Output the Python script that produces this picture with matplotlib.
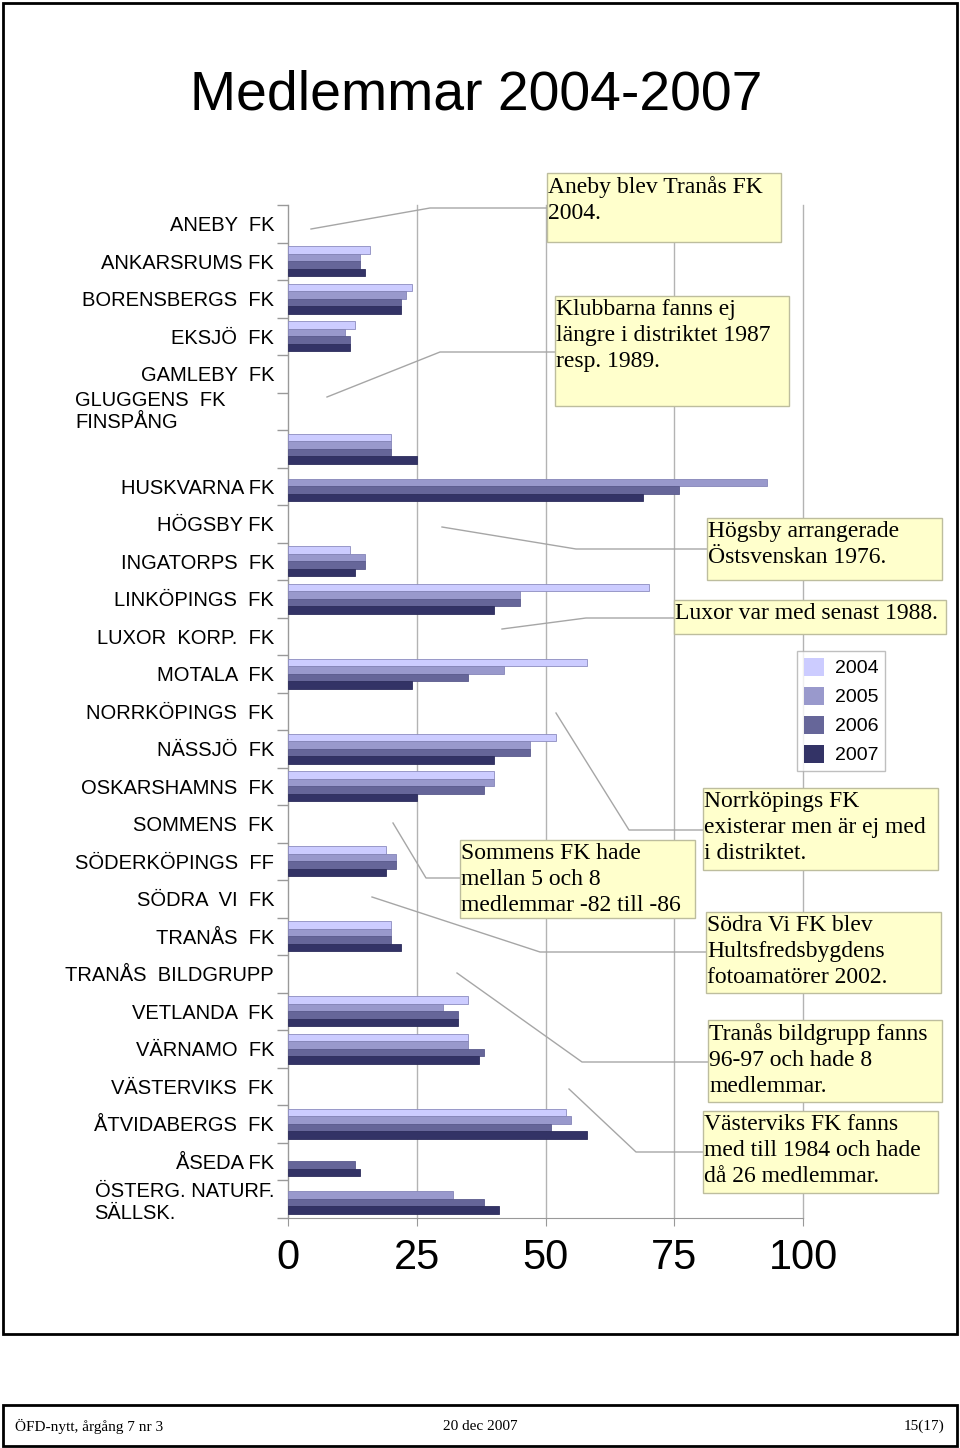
import matplotlib
matplotlib.use('Agg')
import matplotlib.pyplot as plt
import numpy as np
from matplotlib import font_manager
from matplotlib.patches import Rectangle
from matplotlib.lines import Line2D
from matplotlib.transforms import blended_transform_factory

# data
klubbar = ['ANEBY  FK', 'ANKARSRUMS FK', 'BORENSBERGS  FK', 'EKSJÖ  FK', 'GAMLEBY  FK',
           'GLUGGENS  FK\nFINSPÅNG', '', 'HUSKVARNA FK', 'HÖGSBY FK', 'INGATORPS  FK',
           'LINKÖPINGS  FK', 'LUXOR  KORP.  FK', 'MOTALA  FK', 'NORRKÖPINGS  FK', 'NÄSSJÖ  FK',
           'OSKARSHAMNS  FK', 'SOMMENS  FK', 'SÖDERKÖPINGS  FF', 'SÖDRA  VI  FK', 'TRANÅS  FK',
           'TRANÅS  BILDGRUPP', 'VETLANDA  FK', 'VÄRNAMO  FK', 'VÄSTERVIKS  FK', 'ÅTVIDABERGS  FK',
           'ÅSEDA FK', 'ÖSTERG. NATURF.\nSÄLLSK.']
ar = ['2004', '2005', '2006', '2007']
v2004 = [0, 16, 24, 13, 0, 0, 20, 0, 0, 12, 70, 0, 58, 0, 52, 40, 0, 19, 0, 20, 0, 35, 35, 0, 54, 0, 0]
v2005 = [0, 14, 23, 11, 0, 0, 20, 93, 0, 15, 45, 0, 42, 0, 47, 40, 0, 21, 0, 20, 0, 30, 35, 0, 55, 0, 32]
v2006 = [0, 14, 22, 12, 0, 0, 20, 76, 0, 15, 45, 0, 35, 0, 47, 38, 0, 21, 0, 20, 0, 33, 38, 0, 51, 13, 38]
v2007 = [0, 15, 22, 12, 0, 0, 25, 69, 0, 13, 40, 0, 24, 0, 40, 25, 0, 19, 0, 22, 0, 33, 37, 0, 58, 14, 41]
farger = ['#ccccff', '#9999cc', '#666699', '#333366']

# kommentarer: text, ruta (x0, y0, x1, y1 i pixlar), linje
kommentarer = [
    ("Aneby blev Tranås FK\n2004.", (547, 173, 781, 242), [(311, 229), (430, 208), (547, 208)]),
    ("Klubbarna fanns ej\nlängre i distriktet 1987\nresp. 1989.", (555, 296, 789, 406),
     [(327, 397), (440, 352), (555, 352)]),
    ("Högsby arrangerade\nÖstsvenskan 1976.", (707, 518, 942, 580), [(442, 527), (576, 549), (707, 549)]),
    ("Luxor var med senast 1988.", (674, 600, 946, 634), [(502, 629), (586, 618), (674, 618)]),
    ("Norrköpings FK\nexisterar men är ej med\ni distriktet.", (703, 788, 938, 870),
     [(556, 713), (629, 830), (703, 830)]),
    ("Sommens FK hade\nmellan 5 och 8\nmedlemmar -82 till -86", (460, 840, 695, 918),
     [(393, 823), (426, 878), (460, 878)]),
    ("Södra Vi FK blev\nHultsfredsbygdens\nfotoamatörer 2002.", (706, 912, 941, 993),
     [(372, 897), (540, 952), (706, 952)]),
    ("Tranås bildgrupp fanns\n96-97 och hade 8\nmedlemmar.", (708, 1020, 942, 1102),
     [(457, 973), (582, 1062), (708, 1062)]),
    ("Västerviks FK fanns\nmed till 1984 och hade\ndå 26 medlemmar.", (703, 1111, 938, 1193),
     [(569, 1089), (636, 1152), (703, 1152)]),
]

W, H = 960, 1448


def fx(x):
    return x / W


def fy(y):
    return 1 - y / H


def finns(namn):
    try:
        font_manager.findfont(namn, fallback_to_default=False)
        return True
    except Exception:
        return False


smal = 'Liberation Sans Narrow'
skala = 1.0
if not finns(smal):
    smal = 'Liberation Sans'
    skala = 0.83

plt.rcParams['font.family'] = ['Liberation Sans', 'DejaVu Sans']

fig = plt.figure(figsize=(9.6, 14.48), dpi=100)
ax = fig.add_axes([fx(288), fy(1217.5), (803 - 288) / W, (1217.5 - 205) / H])

n = len(klubbar)
y = np.arange(n)
h = 0.197
serier = [v2004, v2005, v2006, v2007]
kanter = ['#8c8cbf', '#8585b8', '#5a5a8c', '#2d2d5c']
for k, (v, f) in enumerate(zip(serier, farger)):
    vv = np.array(v, dtype=float)
    vv[vv == 0] = np.nan
    ax.barh(y + (k - 1.5) * h, vv, height=h, color=f, edgecolor=kanter[k], linewidth=0.6,
            label=ar[k], zorder=3)

ax.set_xlim(0, 100)
ax.set_ylim(n - 0.5, -0.5)
ax.set_xticks([0, 25, 50, 75, 100])
ax.set_xticklabels(['0', '25', '50', '75', '100'], family=smal, fontsize=36 * skala)
ax.tick_params(axis='x', length=6, color='#999999', pad=9)

etiketter = [k if not k.startswith('GLUGGENS') else '' for k in klubbar]
ax.set_yticks(y)
ax.set_yticklabels(etiketter, fontsize=14.5)
for t in ax.get_yticklabels():
    t.set_multialignment('left')
    t.set_linespacing(1.2)
ax.tick_params(axis='y', which='major', length=0, pad=10)
ax.set_yticks(np.arange(n + 1) - 0.5, minor=True)
ax.tick_params(axis='y', which='minor', length=8, color='#999999', width=1)

# gluggens etikett, vänsterställd
tr = blended_transform_factory(fig.transFigure, ax.transData)
idx = [i for i, k in enumerate(klubbar) if k.startswith('GLUGGENS')][0]
ax.text(fx(75), idx, klubbar[idx], transform=tr, ha='left', va='center', fontsize=14.5,
        linespacing=1.2)

ax.xaxis.grid(True, color='#b3b3b3', linewidth=1)
for g in ax.get_xgridlines():
    g.set_clip_on(False)
ax.set_axisbelow(True)
for s in ['top', 'right']:
    ax.spines[s].set_visible(False)
for s in ['left', 'bottom']:
    ax.spines[s].set_color('#999999')

# legend
handtag = [Rectangle((0, 0), 1, 1, facecolor=f, edgecolor='none') for f in farger]
leg = fig.legend(handtag, ar, loc='upper left', bbox_to_anchor=(fx(797), fy(651)),
                 fontsize=14, frameon=True, fancybox=False, edgecolor='#b0b0b0',
                 handlelength=1.05, handleheight=1.05, labelspacing=0.48, borderpad=0.35,
                 handletextpad=0.55, borderaxespad=0)
leg.get_frame().set_linewidth(1)

# kommentarer
for text, (x0, y0, x1, y1), linje in kommentarer:
    xs = [fx(p[0]) for p in linje]
    ys = [fy(p[1]) for p in linje]
    fig.add_artist(Line2D(xs, ys, transform=fig.transFigure, color='#a6a6a6', lw=1, zorder=4))
    fig.add_artist(Rectangle((fx(x0), fy(y1)), fx(x1) - fx(x0), fy(y0) - fy(y1),
                             transform=fig.transFigure, facecolor='#ffffcc',
                             edgecolor='#bdbd9e', lw=1, zorder=5))
    fig.text(fx(x0 + 1), fy(y0 + 3), text, ha='left', va='top', fontsize=17,
             family='Liberation Serif', linespacing=1.3, zorder=6)

# titel
fig.text(fx(476), fy(95), 'Medlemmar 2004-2007', ha='center', va='center',
         fontsize=48 * skala, family=smal)

# ramar
fig.add_artist(Rectangle((fx(3), fy(1334)), fx(957) - fx(3), fy(3) - fy(1334),
                         transform=fig.transFigure, fill=False, edgecolor='black', lw=2))
fig.add_artist(Rectangle((fx(3), fy(1446)), fx(957) - fx(3), fy(1405) - fy(1446),
                         transform=fig.transFigure, fill=False, edgecolor='black', lw=2))
fig.text(fx(15), fy(1426), 'ÖFD-nytt, årgång 7 nr 3', ha='left', va='center', fontsize=11,
         family='Liberation Serif')
fig.text(fx(480), fy(1426), '20 dec 2007', ha='center', va='center', fontsize=11,
         family='Liberation Serif')
fig.text(fx(944), fy(1426), '15(17)', ha='right', va='center', fontsize=11,
         family='Liberation Serif')

fig.savefig('out.png', dpi=100)
